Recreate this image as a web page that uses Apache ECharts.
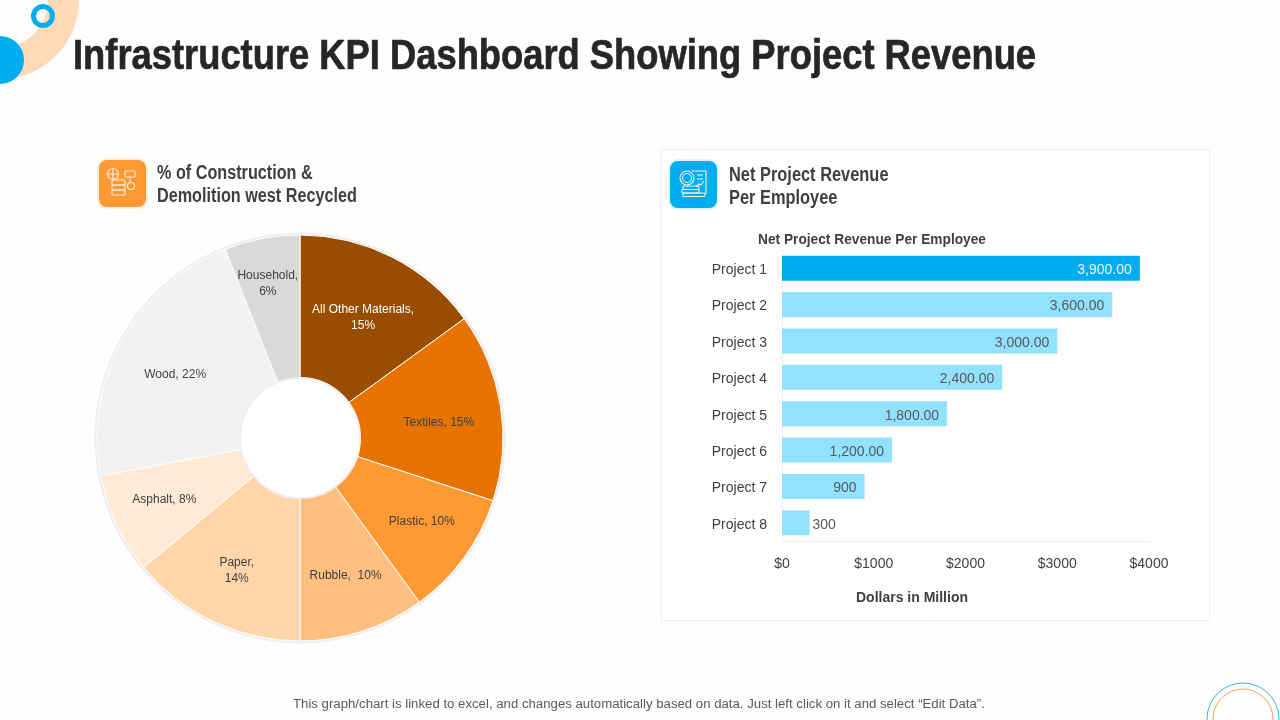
<!DOCTYPE html>
<html>
<head>
<meta charset="utf-8">
<title>Infrastructure KPI Dashboard</title>
<script src="https://cdn.jsdelivr.net/npm/echarts@6/dist/echarts.min.js"></script>
<style>
  html, body { margin: 0; padding: 0; background: #fffefd; }
  #main { width: 1280px; height: 720px; }
</style>
</head>
<body>
<div id="main"></div>
<script>
// data
const materials = ['All Other Materials', 'Textiles', 'Plastic', 'Rubble', 'Paper', 'Asphalt', 'Wood', 'Household'];
const materialShares = [15, 15, 10, 10, 14, 8, 22, 6];
const materialColors = ['#994d00', '#e67300', '#ff9933', '#ffbf80', '#ffd5aa', '#ffead5', '#f2f2f2', '#d9d9d9'];
const projects = ['Project 1', 'Project 2', 'Project 3', 'Project 4', 'Project 5', 'Project 6', 'Project 7', 'Project 8'];
const revenue = [3900, 3600, 3000, 2400, 1800, 1200, 900, 300];
const revenueLabels = ['3,900.00', '3,600.00', '3,000.00', '2,400.00', '1,800.00', '1,200.00', '900', '300'];

const SANS = '"Liberation Sans", Arial, sans-serif';
const ICON_LINE = '#ffeedd';

let myChart = echarts.init(document.getElementById('main'));

// labels wrap the same way as the slide
const pieLabelText = ['All Other Materials,\n15%', 'Textiles, 15%', 'Plastic, 10%', 'Rubble,  10%', 'Paper,\n14%', 'Asphalt, 8%', 'Wood, 22%', 'Household,\n6%'];
const pieLabelShift = [[2, 0], [6, 6], [13, 5], [4, 10], [-6, 11], [-14, 4], [-7, 1], [-7, -22]];

function line(points) {
  return { type: 'polyline', z: 10, shape: { points: points }, style: { stroke: ICON_LINE, lineWidth: 1.1, fill: null } };
}
function box(x, y, w, h) {
  return { type: 'rect', z: 10, shape: { x: x, y: y, width: w, height: h, r: 1 }, style: { stroke: ICON_LINE, lineWidth: 1.1, fill: null } };
}
function ring(x, y, r) {
  return { type: 'circle', z: 10, shape: { cx: x, cy: y, r: r }, style: { stroke: ICON_LINE, lineWidth: 1.1, fill: null } };
}
// no narrow font here, so the text is squeezed sideways
function label(text, x, y, font, fill, squeeze, lineHeight, heavier) {
  return {
    type: 'text', z: 10, x: x, y: y, scaleX: squeeze,
    style: { text: text, fill: fill, font: font + ' ' + SANS, lineHeight: lineHeight, stroke: heavier ? fill : null, lineWidth: heavier || 0 }
  };
}

let option = {
  backgroundColor: '#fffefd',
  animation: false,
  grid: { left: 782, top: 250, width: 367, height: 291 },
  xAxis: {
    type: 'value', min: 0, max: 4000, interval: 1000,
    axisLine: { show: true, lineStyle: { color: '#eeeeee' } },
    axisTick: { show: false },
    splitLine: { show: false },
    axisLabel: { formatter: v => '$' + v, color: '#404040', fontFamily: SANS, fontSize: 14, margin: 16 }
  },
  yAxis: {
    type: 'category', inverse: true, data: projects,
    axisLine: { show: true, lineStyle: { color: '#eeeeee' } },
    axisTick: { show: false },
    axisLabel: {
      formatter: '{p|{value}}', margin: 15,
      rich: { p: { color: '#404040', fontFamily: SANS, fontSize: 14, padding: [4, 0, 0, 0] } }
    }
  },
  series: [
    {
      type: 'pie', center: [300, 438], radius: [60, 203], startAngle: 90, clockwise: true,
      silent: true, avoidLabelOverlap: false,
      itemStyle: { borderColor: '#ffffff', borderWidth: 1 },
      labelLine: { show: false },
      data: materials.map((name, i) => ({
        name: name,
        value: materialShares[i],
        itemStyle: { color: materialColors[i] },
        label: {
          position: 'inside',
          formatter: pieLabelText[i],
          color: i === 0 ? '#ffffff' : '#404040',
          fontFamily: SANS, fontSize: 12, lineHeight: 16,
          offset: pieLabelShift[i]
        }
      }))
    },
    {
      type: 'bar', barWidth: 25, silent: true,
      data: revenue.map((v, i) => ({
        value: v,
        itemStyle: { color: i === 0 ? '#00aeef' : '#91e1ff' },
        label: {
          show: true,
          position: i === 7 ? 'right' : 'insideRight',
          distance: i === 7 ? 3 : 8,
          offset: [0, 2],
          formatter: revenueLabels[i],
          color: i === 0 ? '#f2f2f2' : '#595959',
          fontFamily: SANS, fontSize: 14
        }
      }))
    }
  ],
  graphic: { elements: [
    // corner decoration, the small ring is see-through
    { type: 'ring', z: 1, shape: { cx: 0, cy: 0, r: 79, r0: 48 }, style: { fill: '#ffd9b8' } },
    { type: 'circle', z: 2, shape: { cx: 0, cy: 60, r: 24 }, style: { fill: '#00aeef' } },
    { type: 'circle', z: 2, shape: { cx: 43, cy: 16, r: 9.5 }, style: { fill: null, stroke: '#00aeef', lineWidth: 5 } },
    { type: 'circle', z: 1, shape: { cx: 1243, cy: 719, r: 36 }, style: { fill: null, stroke: '#35b5e5', lineWidth: 1 } },
    { type: 'circle', z: 1, shape: { cx: 1243, cy: 719, r: 30 }, style: { fill: null, stroke: '#f5a55e', lineWidth: 1 } },

    // revenue card
    { type: 'rect', z: -1, shape: { x: 661.5, y: 149.5, width: 548, height: 471 }, style: { fill: '#ffffff', stroke: '#f0f0f0', lineWidth: 1 } },

    // edges round the donut
    { type: 'circle', z: -1, shape: { cx: 300, cy: 438, r: 204 }, style: { fill: '#fff', stroke: '#efefef', lineWidth: 3 } },
    { type: 'circle', z: 5, shape: { cx: 300, cy: 438, r: 60 }, style: { fill: '#fff', stroke: '#efefef', lineWidth: 2 } },

    // orange icon
    { type: 'rect', z: 8, shape: { x: 98, y: 159, width: 49, height: 49, r: 9 }, style: { fill: '#ff9933', stroke: '#fdeee0', lineWidth: 2 } },
    ring(113, 174, 5.5), line([[107.5, 174], [118.5, 174]]), line([[113, 168.5], [113, 179.5]]),
    box(112, 180, 13, 5), box(112, 185, 13, 5), box(112, 190, 13, 5),
    box(125, 171, 10, 6), line([[130, 177], [130, 183]]), ring(131, 186, 3.5),

    // blue icon
    { type: 'rect', z: 8, shape: { x: 669, y: 160, width: 49, height: 49, r: 9 }, style: { fill: '#00aeef', stroke: '#e0f4fc', lineWidth: 2 } },
    ring(687, 178, 7), ring(687, 178, 4.5),
    line([[692, 171], [706, 171], [706, 194]]), line([[697, 175], [703, 175]]), line([[697, 179], [703, 179]]),
    line([[696, 187], [699, 184], [701, 185], [704, 181]]),
    box(683, 186, 16, 3.5), box(682, 189.5, 17, 3.5), box(683, 193, 22, 3.5),

    // title and headings
    label('Infrastructure KPI Dashboard Showing Project Revenue', 73, 36, 'bold 43px', '#262626', 0.845, null, 0.7),
    label('% of Construction &\nDemolition west Recycled', 157, 162, 'bold 20px', '#404040', 0.81, 23),
    label('Net Project Revenue\nPer Employee', 729, 164, 'bold 20px', '#404040', 0.82, 23),
    label('Net Project Revenue Per Employee', 758, 233, 'bold 14px', '#404040', 0.98),
    label('Dollars in Million', 856, 591, 'bold 14px', '#404040', 1),
    label('This graph/chart is linked to excel, and changes automatically based on data. Just left click on it and select \u201cEdit Data\u201d.', 293, 699, '12px', '#595959', 1.1)
  ] }
};

myChart.setOption(option);
</script>
</body>
</html>
